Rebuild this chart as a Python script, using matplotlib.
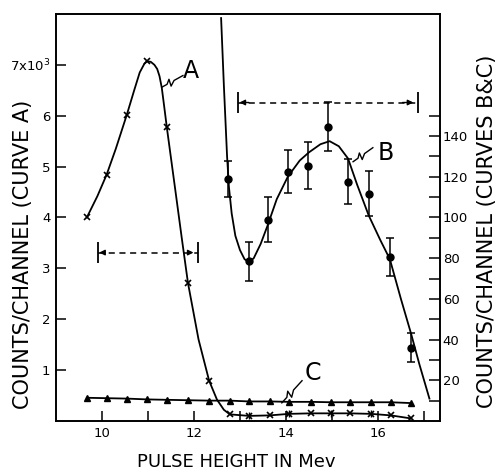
import matplotlib
matplotlib.use('Agg')
import matplotlib.pyplot as plt

# energy grid (Mev) shared by curves A and C
energy = [9.67, 10.1, 10.54, 10.98, 11.41, 11.87, 12.33, 12.78, 13.2, 13.65,
          14.07, 14.54, 14.98, 15.39, 15.85, 16.28, 16.72]

# curve A, counts/channel in units of 10^3
a_counts = [4.0, 4.84, 6.02, 7.07, 5.77, 2.71, 0.79, 0.13, 0.10, 0.11,
            0.14, 0.15, 0.15, 0.15, 0.14, 0.11, 0.05]
# hand-drawn curve through A
a_fit_x = [9.67, 9.9, 10.1, 10.3, 10.54, 10.7, 10.82, 10.92, 10.98, 11.06,
           11.14, 11.2, 11.25, 11.3, 11.35, 11.41, 11.6, 11.74, 11.87, 12.1,
           12.33, 12.5, 12.65, 12.78]
a_fit_y = [4.0, 4.42, 4.84, 5.35, 6.02, 6.5, 6.85, 7.02, 7.07, 7.06,
           7.0, 6.92, 6.78, 6.55, 6.2, 5.77, 4.5, 3.56, 2.71, 1.6,
           0.79, 0.42, 0.22, 0.13]

# curve C (right axis)
c_counts = [11.4, 11.2, 11.0, 10.6, 10.4, 10.2, 10.0, 10.0, 9.6, 9.6,
            9.4, 9.4, 9.2, 9.2, 9.2, 9.2, 8.8]

# curve B points with error bars (right axis)
b_x = [12.74, 13.2, 13.6, 14.04, 14.48, 14.91, 15.35, 15.8, 16.26, 16.72]
b_counts = [119, 78.5, 99, 122.5, 125.5, 144.7, 117.5, 111.6, 80.5, 36]
b_err = [9, 9.5, 11, 10.5, 11.5, 12, 11, 11, 9.5, 7]
# hand-drawn curve through B
b_fit_x = [12.59, 12.65, 12.72, 12.76, 12.82, 12.9, 13.0, 13.1, 13.2, 13.3,
           13.45, 13.6, 13.8, 14.04, 14.3, 14.5, 14.75, 14.95, 15.15, 15.35,
           15.55, 15.8, 16.05, 16.26, 16.5, 16.72, 16.9, 17.12]
b_fit_y = [198, 165, 130, 115, 102, 91, 84, 79.5, 78, 80,
           87, 96, 109, 120, 128, 132, 136, 137.5, 135, 129,
           116, 101, 89, 79.5, 60, 43, 28, 11]

tail_err_idx = [8, 10, 12, 14]

plt.rcParams['font.family'] = ['DejaVu Sans']

fig = plt.figure(figsize=(4.97, 4.71), dpi=100)
ax = fig.add_axes([0.1127, 0.1062, 0.7726, 0.8641])
ax2 = ax.twinx()

ax.set_xlim(9.0, 17.35)
ax.set_ylim(0, 8)
ax2.set_ylim(0, 200)

# curve A
ax.plot(a_fit_x + energy[8:], a_fit_y + a_counts[8:], color='black', lw=1.3)
ax.plot(energy, a_counts, 'x', color='black', ms=4, mew=1.2)
ax.errorbar([energy[i] for i in tail_err_idx], [a_counts[i] for i in tail_err_idx],
            yerr=0.07, fmt='none', ecolor='black', elinewidth=1)

# curve C
ax2.plot(energy, c_counts, '-^', color='black', lw=1.3, ms=5)

# curve B
ax2.plot(b_fit_x, b_fit_y, color='black', lw=1.3)
ax2.errorbar(b_x, b_counts, yerr=b_err, fmt='o', color='black', ms=5,
             elinewidth=1.1, capsize=3, capthick=1.1)


def resolution_bar(axis, x0, x1, y, h):
    axis.plot([x0, x1], [y, y], color='black', lw=1.1, ls=(0, (4, 3)))
    axis.vlines([x0, x1], y - h, y + h, color='black', lw=1.3)
    dx = (x1 - x0) * 0.06
    axis.annotate('', xy=(x0 + 0.03, y), xytext=(x0 + dx, y),
                  arrowprops=dict(arrowstyle='-|>', color='black', lw=1,
                                  mutation_scale=8, shrinkA=0, shrinkB=0))
    axis.annotate('', xy=(x1 - 0.1, y), xytext=(x1 - 0.1 - dx, y),
                  arrowprops=dict(arrowstyle='-|>', color='black', lw=1,
                                  mutation_scale=8, shrinkA=0, shrinkB=0))


resolution_bar(ax, 9.91, 12.09, 3.31, 0.2)
resolution_bar(ax2, 12.96, 16.87, 156.5, 5)


def bolt(axis, p0, p1, label, lpos):
    # leader line with a small lightning-style zigzag
    x0, y0 = axis.transData.transform(p0)
    x1, y1 = axis.transData.transform(p1)
    dx, dy = x1 - x0, y1 - y0
    n = (dx * dx + dy * dy) ** 0.5
    nx, ny = -dy / n, dx / n
    pts = [(x0, y0),
           (x0 + 0.25 * dx, y0 + 0.25 * dy),
           (x0 + 0.42 * dx + 3.5 * nx, y0 + 0.42 * dy + 3.5 * ny),
           (x0 + 0.36 * dx - 3.5 * nx, y0 + 0.36 * dy - 3.5 * ny),
           (x0 + 0.58 * dx, y0 + 0.58 * dy),
           (x1, y1)]
    inv = axis.transData.inverted()
    pts = inv.transform(pts)
    axis.plot(pts[:, 0], pts[:, 1], color='black', lw=1)
    axis.text(lpos[0], lpos[1], label, fontsize=17, ha='center', va='center')


bolt(ax, (11.30, 6.56), (11.76, 6.79), 'A', (11.93, 6.87))
bolt(ax2, (15.46, 127.4), (15.89, 134.3), 'B', (16.17, 131.9))
bolt(ax2, (13.91, 8.9), (14.35, 19.8), 'C', (14.59, 23.7))

# axes
ax.set_xticks(range(10, 18))
ax.set_xticklabels(['10', '', '12', '', '14', '', '16', ''])
ax.set_yticks(range(1, 8))
ax.set_yticklabels(['1', '2', '3', '4', '5', '6', '7x10$^3$'])
ax2.set_yticks(range(10, 160, 10))
ax2.set_yticklabels([str(v) if v % 20 == 0 else '' for v in range(10, 160, 10)])

ax.tick_params(axis='both', direction='in', length=7, width=1.1, labelsize=9.5, pad=4)
ax2.tick_params(axis='y', direction='in', length=8, width=1.1, labelsize=9.5, pad=2)
for a in (ax, ax2):
    for s in a.spines.values():
        s.set_linewidth(1.2)

ax.set_xlabel('PULSE HEIGHT IN Mev', fontsize=13)
ax.xaxis.set_label_coords(0.47, -0.078)
ax.set_ylabel('COUNTS/CHANNEL (CURVE A)', fontsize=15)
ax.yaxis.set_label_coords(-0.06, 0.41)
ax2.set_ylabel('COUNTS/CHANNEL (CURVES B&C)', fontsize=15)
ax2.yaxis.set_label_coords(1.096, 0.466)

plt.savefig('out.png', dpi=100)
